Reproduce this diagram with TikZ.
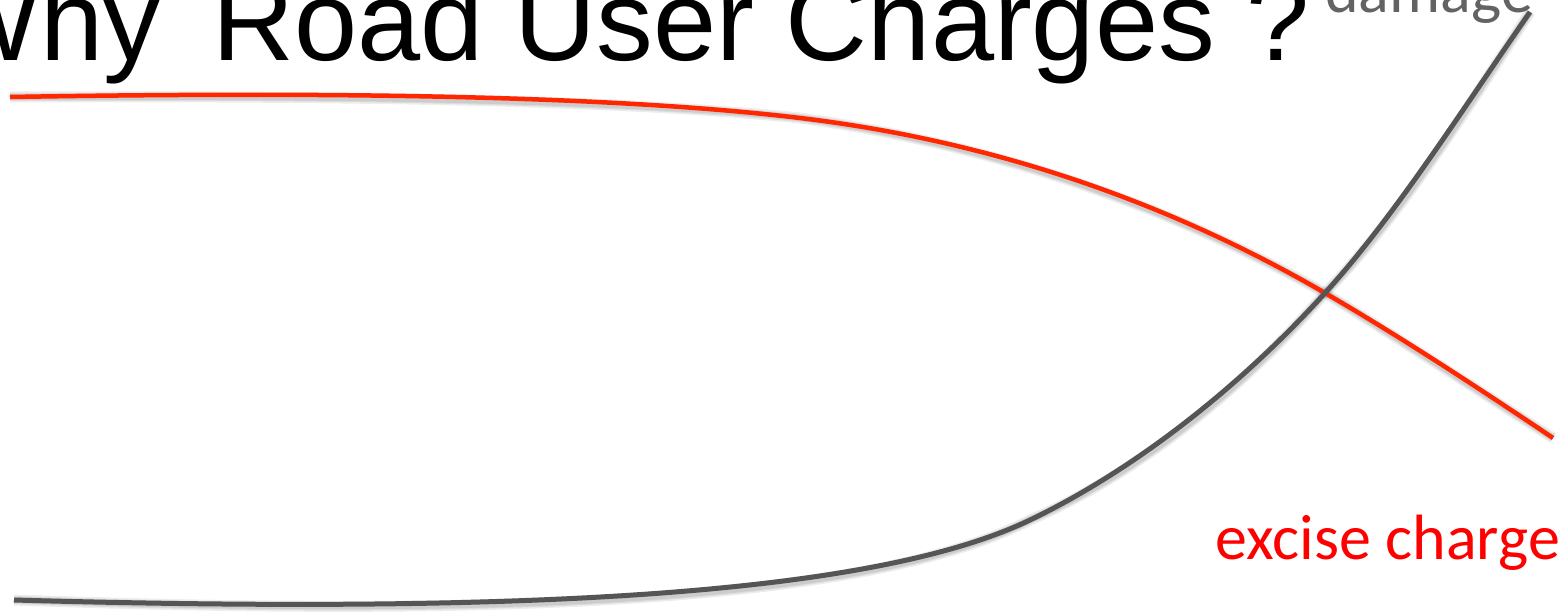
\documentclass[tikz,border=0pt]{standalone}
\usepackage{fontspec}
\setmainfont{Liberation Sans}
\newfontfamily\calfont{Carlito}
\definecolor{curvered}{HTML}{FF2600}
\definecolor{curvegray}{HTML}{555555}
\definecolor{labelgray}{HTML}{636363}
\begin{document}
\begin{tikzpicture}[x=1pt,y=-1pt,
  redline/.style={draw=curvered,line width=4.5pt},
  grayline/.style={draw=curvegray,line width=5pt},
  shade/.style={draw=black,opacity=0.07,line width=#1},
  title/.style={font=\fontsize{113.5}{120}\selectfont,inner sep=0pt,anchor=base east},
  curvelabel/.style={font=\calfont\fontsize{64}{70}\selectfont,inner sep=0pt,anchor=base east}]
\useasboundingbox (0,0) rectangle (1565,614);
\clip (0,0) rectangle (1565,614);
\fill[white] (0,0) rectangle (1565,614);
\node[title] (title) at (1310,60) {Why\hspace{20pt} Road User Charges ?};
\node[curvelabel,text=labelgray] (damage) at (1533,12) {damage};
\node[curvelabel,text=red] (excise) at (1560,559) {excise charge};
% curve end points
\coordinate (rs) at (10,97);
\coordinate (rm) at (800,118);
\coordinate (x) at (1325,293);
\coordinate (re) at (1553,438);
\coordinate (gs) at (14,600);
\coordinate (gm) at (1030,520);
\coordinate (ge) at (1530,12);
\def\redpath{(rs) .. controls (300,92) and (600,94) .. (rm) .. controls (1000,142) and (1175,206) .. (x) .. controls (1400,336.5) and (1480,389) .. (re)}
\def\graypath{(gs) .. controls (550,615) and (880,592) .. (gm) .. controls (1130,472) and (1235,392) .. (x) .. controls (1395,216) and (1460,113) .. (ge)}
% shadows
\foreach \w in {11,8,6}{
  \draw[shade=\w pt,shift={(2,4)}] \redpath;
  \draw[shade=\w pt,shift={(2,4)}] \graypath;
}
\draw[redline] \redpath;
\draw[grayline] \graypath;
\end{tikzpicture}
\end{document}
